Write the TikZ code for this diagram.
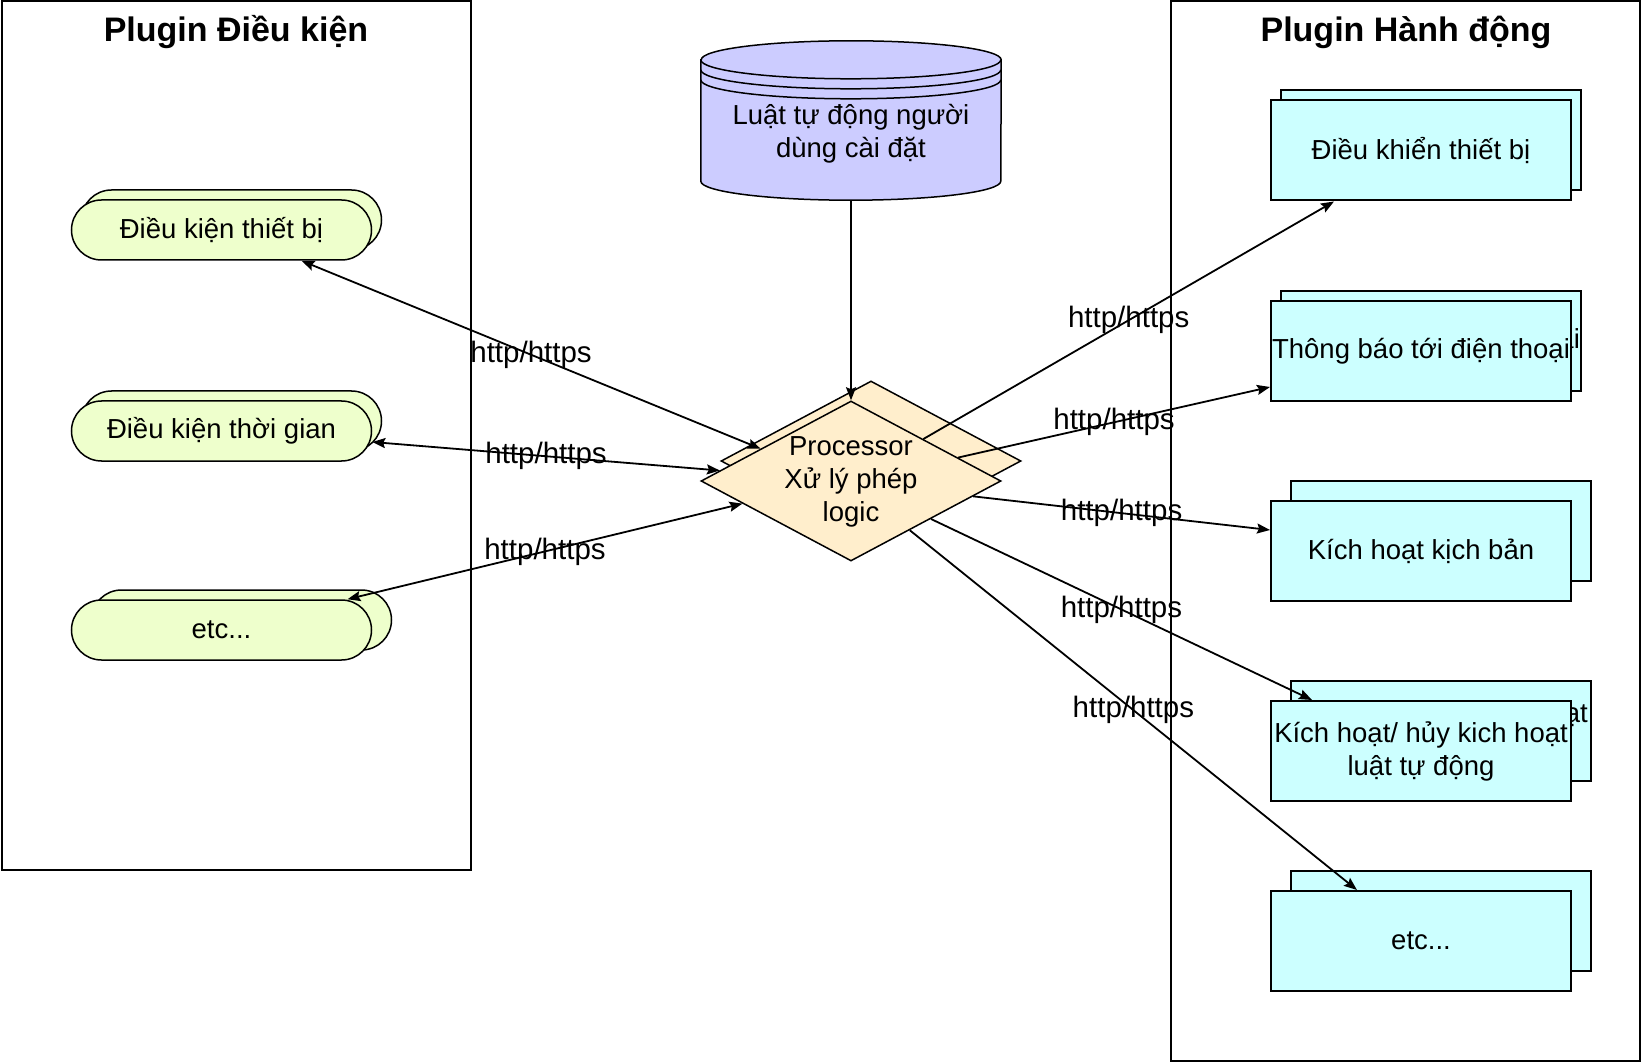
\documentclass[tikz,border=0pt]{standalone}
\usepackage{fontspec}
\setmainfont{Liberation Sans}
\usepackage{tikz}
\usetikzlibrary{positioning, shapes, arrows.meta, backgrounds, calc}
\definecolor{condfill}{HTML}{EEFFCC}
\definecolor{dbfill}{HTML}{CCCCFF}
\definecolor{procfill}{HTML}{FFEECC}
\definecolor{actfill}{HTML}{CCFFFF}
\tikzstyle{frame}=[%
      rectangle, draw=black, line width=2pt, fill=none, inner sep=0pt
]
\tikzstyle{ttl}=[%
      font=\fontsize{34}{40}\selectfont\bfseries, anchor=base, inner sep=0pt
]
\tikzstyle{cond}=[%
      rounded rectangle, draw=black, line width=1.5pt, fill=condfill,
      minimum width=300pt, minimum height=60pt, inner sep=0pt,
      font=\fontsize{27.5}{33}\selectfont
]
\tikzstyle{act}=[%
      rectangle, draw=black, line width=2pt, fill=actfill, align=center,
      minimum width=300pt, minimum height=100pt, inner sep=0pt,
      font=\fontsize{27.5}{33}\selectfont
]
\tikzstyle{proc}=[%
      diamond, draw=black, line width=1.5pt, fill=procfill,
      minimum width=300pt, minimum height=160pt, inner sep=0pt
]
\tikzstyle{dbshape}=[%
      draw=black, line width=1.5pt, fill=dbfill
]
\tikzstyle{txt}=[%
      align=center, inner sep=0pt, font=\fontsize{27.5}{33}\selectfont
]
\tikzstyle{lbl}=[%
      inner sep=0pt, font=\fontsize{29.5}{35}\selectfont
]
\tikzstyle{link}=[%
      line width=1.8pt
]

\begin{document}
\begin{tikzpicture}[x=1pt, y=1pt,
    >={Stealth[length=13pt, width=10pt, inset=2pt]}
  ]
    \useasboundingbox (0,0) rectangle (1644,-1064);

    % plugin frames
    \node[frame, minimum width=469.5pt, minimum height=869pt] (condframe) at (236.25,-435.5) {};
    \node[frame, minimum width=469pt, minimum height=1060pt]  (actframe)  at (1405.5,-531) {};
    \node[ttl] (condtitle) at (236,-42)  {Plugin Điều kiện};
    \node[ttl] (acttitle)  at (1406,-42) {Plugin Hành động};

    % conditions
    \node[cond] (c1) at (221.5,-230)       {Điều kiện thiết bị};
    \node[cond] (c2) [below=139.5pt of c1] {Điều kiện thời gian};
    \node[cond] (c3) [below=137.5pt of c2] {etc...};

    % rules and processor
    \node[minimum width=300pt, minimum height=159pt, inner sep=0pt] (db) at (851,-120.5) {};
    \node[txt] (dblabel) at ([yshift=-13pt]db.center) {Luật tự động người\\dùng cài đặt};
    \node[proc] (proc) at (851,-481) {};
    \node[txt]  (proclabel) at ([yshift=-1pt]proc.center) {Processor\\Xử lý phép\\logic};

    % actions
    \node[act] (a1) at (1421,-150.5)      {Điều khiển thiết bị};
    \node[act] (a2) [below=98.5pt of a1]  {Thông báo tới điện thoại};
    \node[act] (a3) [below=98pt of a2]    {Kích hoạt kịch bản};
    \node[act] (a4) [below=98pt of a3]    {Kích hoạt/ hủy kich hoạt\\luật tự động};
    \node[act] (a5) [below=88pt of a4]    {etc...};

    % stacked copies behind
    \begin{scope}[on background layer]
      \node[cond, xshift=10pt, yshift=10pt] (c1b) at (c1) {};
      \node[cond, xshift=10pt, yshift=10pt] (c2b) at (c2) {};
      \node[cond, xshift=20pt, yshift=10pt] (c3b) at (c3) {};
      \node[proc, xshift=20pt, yshift=20pt] (procb) at (proc) {};
      \node[act, xshift=10pt, yshift=10pt] (a1b) at (a1) {};
      \node[act, xshift=10pt, yshift=10pt] (a2b) at (a2) {Thông báo tới điện thoại};
      \node[act, xshift=20pt, yshift=20pt] (a3b) at (a3) {};
      \node[act, xshift=20pt, yshift=20pt] (a4b) at (a4) {Kích hoạt/ hủy kich hoạt\\luật tự động};
      \node[act, xshift=20pt, yshift=20pt] (a5b) at (a5) {};
      \draw[dbshape] ([yshift=-19pt]db.north west) -- ([yshift=19pt]db.south west)
          arc[start angle=180, end angle=360, x radius=150pt, y radius=19pt]
          -- ([yshift=-19pt]db.north east)
          arc[start angle=0, end angle=180, x radius=150pt, y radius=19pt] -- cycle;
      \foreach \d in {19,29,39}
        \draw[line width=1.5pt] ([yshift=-\d pt]db.north west)
          arc[start angle=180, end angle=360, x radius=150pt, y radius=19pt];
    \end{scope}

    \path (db.south) edge[link, ->] (proc.north)
          ([xshift=80pt]c1.south) edge[link, <->] node[lbl] {http/https} ($(proc.west)!0.4!(proc.north)$)
          ([yshift=-11pt]c2.east) edge[link, <->] node[lbl] {http/https} ($(proc.west)!0.13!(proc.north)$)
          ([xshift=126pt]c3.north) edge[link, <->] node[lbl] {http/https} ($(proc.west)!0.28!(proc.south)$)
          ($(proc.north)!0.48!(proc.east)$) edge[link, ->] node[lbl] {http/https} ([xshift=-87pt]a1.south)
          ($(proc.north)!0.71!(proc.east)$) edge[link, ->] node[lbl] {http/https} ([yshift=-36pt]a2.west)
          ($(proc.east)!0.19!(proc.south)$) edge[link, ->] node[lbl] {http/https} ([yshift=21pt]a3.west)
          ($(proc.east)!0.47!(proc.south)$) edge[link, ->] node[lbl] {http/https} ([xshift=-109pt]a4.north)
          ($(proc.east)!0.61!(proc.south)$) edge[link, ->] node[lbl] {http/https} ([xshift=-64pt]a5.north)
    ;

  \end{tikzpicture}
\end{document}
